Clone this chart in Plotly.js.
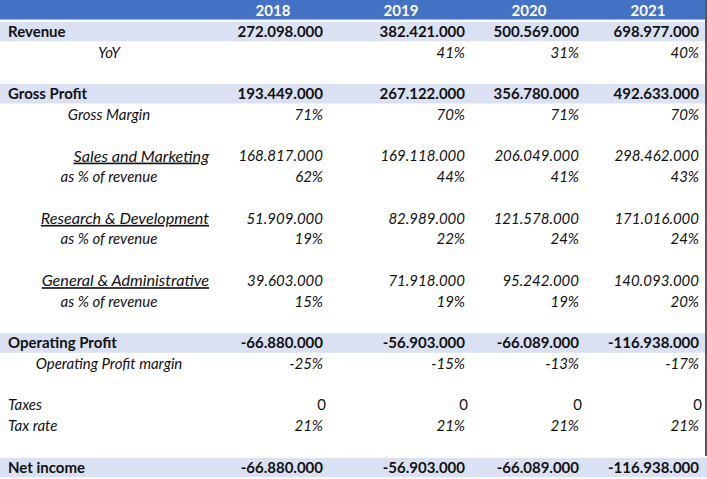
<!DOCTYPE html>
<html><head><meta charset="utf-8">
<script src="https://cdn.plot.ly/plotly-3.0.1.min.js"></script>
<style>html,body{margin:0;padding:0;background:#fff}#chart{width:707px;height:479px}</style>
</head><body><div id="chart"></div>
<script>
// ---- data ----
const years = ['2018', '2019', '2020', '2021'];
const revenue = [272098000, 382421000, 500569000, 698977000];
const yoy = [null, 0.41, 0.31, 0.40];
const grossProfit = [193449000, 267122000, 356780000, 492633000];
const grossMargin = [0.71, 0.70, 0.71, 0.70];
const salesMarketing = [168817000, 169118000, 206049000, 298462000];
const salesMarketingPct = [0.62, 0.44, 0.41, 0.43];
const researchDev = [51909000, 82989000, 121578000, 171016000];
const researchDevPct = [0.19, 0.22, 0.24, 0.24];
const generalAdmin = [39603000, 71918000, 95242000, 140093000];
const generalAdminPct = [0.15, 0.19, 0.19, 0.20];
const operatingProfit = [-66880000, -56903000, -66089000, -116938000];
const operatingMargin = [-0.25, -0.15, -0.13, -0.17];
const taxes = [0, 0, 0, 0];
const taxRate = [0.21, 0.21, 0.21, 0.21];
const netIncome = [-66880000, -56903000, -66089000, -116938000];

// ---- row definitions (row index = layout position) ----
const rows = [
  {row: 1,  label: 'Revenue', lab: 'boldLeft', vals: revenue, kind: 'num', st: 'b', band: true},
  {row: 2,  label: 'YoY', lab: 'italCenter', vals: yoy, kind: 'pct', st: 'i'},
  {row: 4,  label: 'Gross Profit', lab: 'boldLeft', vals: grossProfit, kind: 'num', st: 'b', band: true},
  {row: 5,  label: 'Gross Margin', lab: 'italCenter', vals: grossMargin, kind: 'pct', st: 'i'},
  {row: 7,  label: 'Sales and Marketing', lab: 'italRightU', vals: salesMarketing, kind: 'num', st: 'i'},
  {row: 8,  label: 'as % of revenue', lab: 'italCenter', vals: salesMarketingPct, kind: 'pct', st: 'i'},
  {row: 10, label: 'Research & Development', lab: 'italRightU', vals: researchDev, kind: 'num', st: 'i'},
  {row: 11, label: 'as % of revenue', lab: 'italCenter', vals: researchDevPct, kind: 'pct', st: 'i'},
  {row: 13, label: 'General & Administrative', lab: 'italRightU', vals: generalAdmin, kind: 'num', st: 'i'},
  {row: 14, label: 'as % of revenue', lab: 'italCenter', vals: generalAdminPct, kind: 'pct', st: 'i'},
  {row: 16, label: 'Operating Profit', lab: 'boldLeft', vals: operatingProfit, kind: 'num', st: 'b', band: true},
  {row: 17, label: 'Operating Profit margin', lab: 'italCenter', vals: operatingMargin, kind: 'pct', st: 'i'},
  {row: 19, label: 'Taxes', lab: 'italLeft', vals: taxes, kind: 'zero', st: ''},
  {row: 20, label: 'Tax rate', lab: 'italLeft', vals: taxRate, kind: 'pct', st: 'i'},
  {row: 22, label: 'Net income', lab: 'boldLeft', vals: netIncome, kind: 'num', st: 'b', band: true, last: true}
];

// ---- layout constants ----
const ROWH = 20.76, W = 707, H = 479;
const TXT_DY = 0.09; // text baseline nudge (row units)
const COL_RIGHT = [323, 465, 579, 699];
const COL_CENTER = [273, 401, 529, 648];
const LAB_X = {boldLeft: 8, italLeft: 8, italCenter: 109, italRightU: 209};
const LAB_POS = {boldLeft: 'middle right', italLeft: 'middle right', italCenter: 'middle center', italRightU: 'middle left'};
const LAB_FS = {boldLeft: 15, italLeft: 15, italCenter: 15, italRightU: 16.2};
const FONT = 'Lato, "Open Sans", sans-serif';
const FS = 15;
const BLUE = '#4472C4', BAND = '#D9E1F2';

function fmtNum(v) {
  const s = Math.abs(Math.round(v)).toString().replace(/\B(?=(\d{3})+(?!\d))/g, '.');
  return (v < 0 ? '-' : '') + s;
}
function fmtPct(v) { return v === null ? '' : Math.round(v * 100) + '%'; }
function wrap(t, st) {
  if (st === 'b') return '<b>' + t + '</b>';
  if (st === 'i') return '<i>' + t + '</i>';
  return t;
}

const traces = [];
// labels
['boldLeft', 'italLeft', 'italCenter', 'italRightU'].forEach(k => {
  const rs = rows.filter(r => r.lab === k);
  traces.push({
    type: 'scatter', mode: 'text', hoverinfo: 'skip', showlegend: false,
    x: rs.map(() => LAB_X[k]), y: rs.map(r => r.row + TXT_DY),
    text: rs.map(r => k === 'boldLeft' ? '<b>' + r.label + '</b>' : k === 'italRightU' ? '<i><u>' + r.label + '</u></i>' : '<i>' + r.label + '</i>'),
    textposition: LAB_POS[k], textfont: {family: FONT, size: LAB_FS[k], color: '#111'}
  });
});
// header years
traces.push({
  type: 'scatter', mode: 'text', hoverinfo: 'skip', showlegend: false,
  x: COL_CENTER, y: years.map(() => TXT_DY),
  text: years.map(y => '<b>' + y + '</b>'), textposition: 'middle center',
  textfont: {family: FONT, size: FS, color: '#ffffff'}
});
// values per year
years.forEach((yr, j) => {
  traces.push({
    type: 'scatter', mode: 'text', hoverinfo: 'skip', showlegend: false,
    x: rows.map(r => COL_RIGHT[j] + (r.kind === 'zero' ? 3 : 0)),
    y: rows.map(r => r.row + TXT_DY),
    text: rows.map(r => {
      const v = r.vals[j];
      if (v === null) return '';
      const t = r.kind === 'pct' ? fmtPct(v) : r.kind === 'zero' ? String(v) : fmtNum(v);
      return wrap(t, r.st);
    }),
    textposition: 'middle left', textfont: {family: FONT, size: FS, color: '#111'}
  });
});

const gap = 1 / ROWH;
const shapes = [
  {type: 'rect', xref: 'x', yref: 'y', x0: 0, x1: 705, y0: -0.5, y1: 0.5 - gap * 1.2, fillcolor: BLUE, line: {width: 0}, layer: 'below'}
];
rows.filter(r => r.band).forEach(r => {
  shapes.push({type: 'rect', xref: 'x', yref: 'y', x0: 0, x1: r.last ? W : 705,
    y0: r.row - 0.5 + gap, y1: r.row + 0.5 - gap * 0.2, fillcolor: BAND, line: {width: 0}, layer: 'below'});
});
shapes.push({type: 'line', xref: 'x', yref: 'y', x0: 706, x1: 706, y0: -0.5, y1: 21.47, line: {color: '#555555', width: 2}});

const layout = {
  width: W, height: H, margin: {l: 0, r: 0, t: 0, b: 0, pad: 0},
  paper_bgcolor: '#ffffff', plot_bgcolor: '#ffffff', hovermode: false, showlegend: false,
  xaxis: {range: [0, W], visible: false, fixedrange: true},
  yaxis: {range: [-0.5 + H / ROWH, -0.5], visible: false, fixedrange: true},
  shapes: shapes
};
Plotly.newPlot('chart', traces, layout, {staticPlot: true, displayModeBar: false});
</script></body></html>
